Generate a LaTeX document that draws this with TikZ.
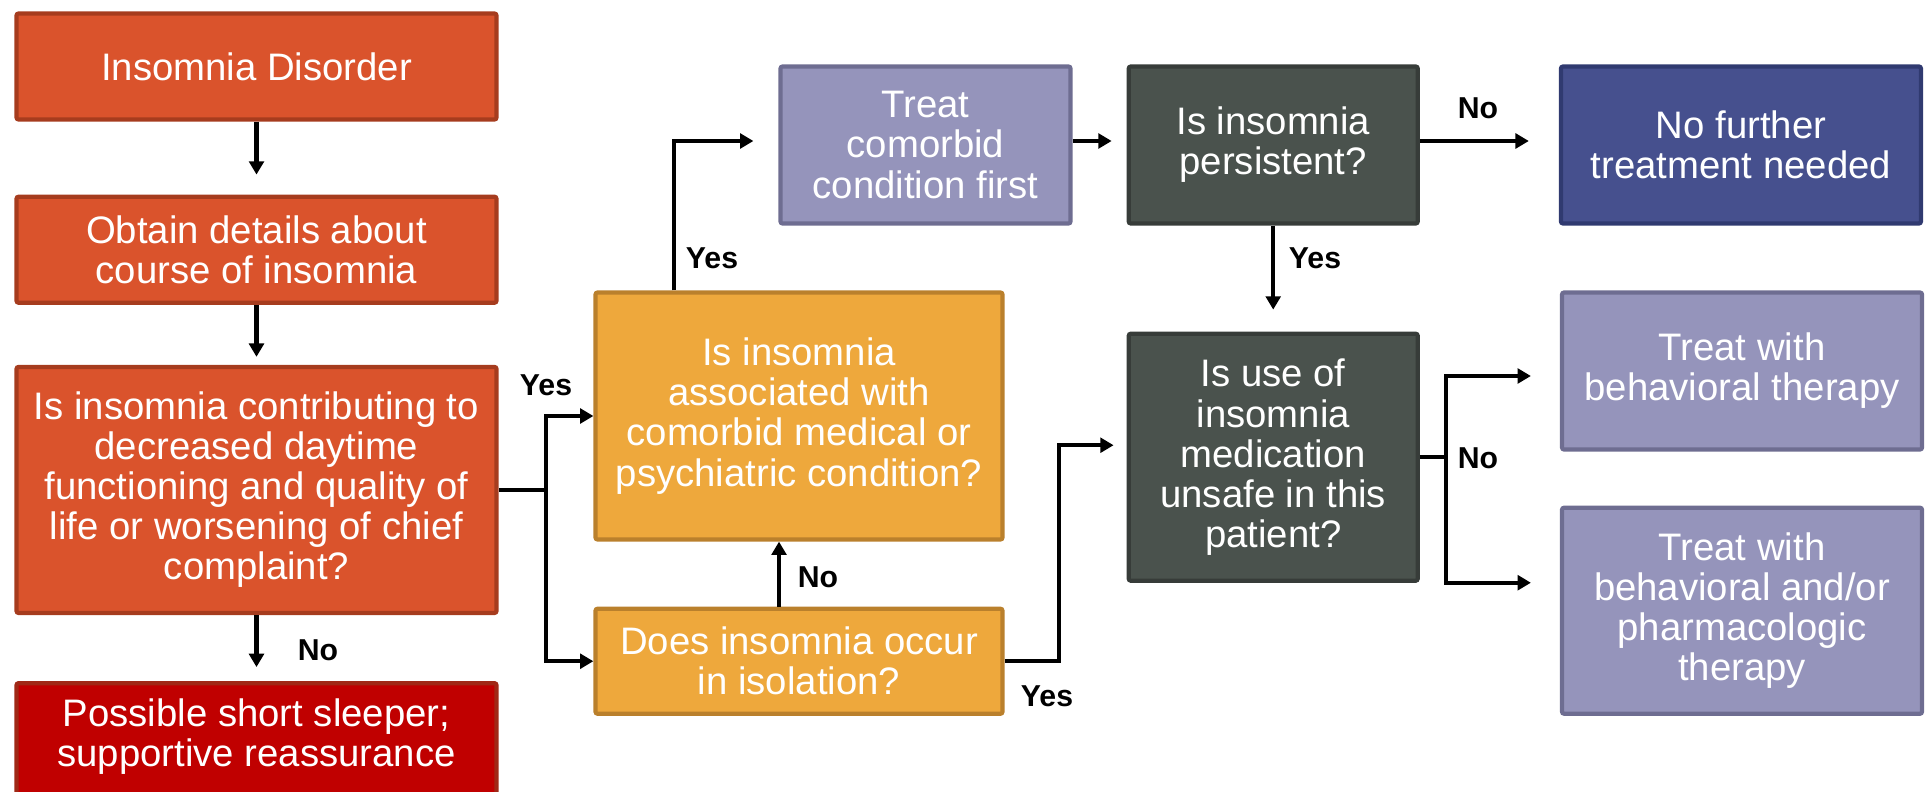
\documentclass[tikz,border=0pt]{standalone}
\usepackage{fontspec}
\setmainfont{Liberation Sans}
\usepackage{xcolor}
\usepackage{tikz}
\usetikzlibrary{arrows.meta, positioning, calc}
\definecolor{rust}{RGB}{218,83,44}
\definecolor{rustdk}{RGB}{166,60,30}
\definecolor{crimson}{RGB}{192,0,0}
\definecolor{crimsondk}{RGB}{160,40,22}
\definecolor{amber}{RGB}{238,168,60}
\definecolor{amberdk}{RGB}{186,128,44}
\definecolor{lilac}{RGB}{149,148,187}
\definecolor{lilacdk}{RGB}{110,109,145}
\definecolor{slate}{RGB}{74,82,77}
\definecolor{slatedk}{RGB}{55,60,57}
\definecolor{navy}{RGB}{70,80,142}
\definecolor{navydk}{RGB}{48,58,112}

\begin{document}
\begin{tikzpicture}[
  font=\fontsize{10.9}{11.4}\selectfont,
  base/.style={rectangle, rounded corners=0.6pt, line width=1.2pt, text=white,
               align=center, inner sep=2pt},
  rbox/.style={base, draw=rustdk, fill=rust, minimum width=4.8cm, minimum height=1.06cm},
  abox/.style={base, draw=amberdk, fill=amber, minimum width=4.07cm, minimum height=1.05cm},
  lbox/.style={base, draw=lilacdk, fill=lilac, minimum width=3.6cm, minimum height=1.57cm},
  gbox/.style={base, draw=slatedk, fill=slate, minimum width=2.89cm, minimum height=1.57cm},
  nvbox/.style={base, draw=navydk, fill=navy, minimum width=3.6cm, minimum height=1.57cm},
  line/.style={-, line width=1.2pt, black},
  arr/.style={-{Triangle[length=3.8pt, width=4.2pt]}, line width=1.2pt, black},
  lbl/.style={font=\bfseries\fontsize{8.6}{9}\selectfont, inner sep=0pt}
]
\useasboundingbox (0,0) rectangle (19.32,-7.91);

% left column
\node[rbox] (dis) at (2.565,-0.665) {Insomnia Disorder};
\node[rbox, below=0.73cm of dis] (det) {Obtain details about\\course of insomnia};
\node[rbox, minimum height=2.46cm, below=0.60cm of det] (contr)
  {Is insomnia contributing to\\decreased daytime\\functioning and quality of\\life or worsening of chief\\complaint?};
\node[rbox, fill=crimson, draw=crimsondk, minimum height=1.3cm, text depth=9pt,
      below=0.66cm of contr] (short)
  {Possible short sleeper;\\supportive reassurance};
\draw[arr, shorten >=0.2cm] (dis) -- (det);
\draw[arr, shorten >=0.08cm] (det) -- (contr);
\draw[arr, shorten >=0.14cm] (contr) -- (short);
\node[lbl] (noa) at (3.18,-6.50) {No};

% middle column
\node[abox, minimum height=2.47cm] (assoc) at (7.99,-4.16)
  {Is insomnia\\associated with\\comorbid medical or\\psychiatric condition?};
\node[abox, below=0.65cm of assoc] (isol) {Does insomnia occur\\in isolation?};
\coordinate[right=0.47cm of contr.east] (jl);
\draw[line] (contr.east) -- (jl);
\draw[arr] (jl) |- (assoc.west);
\draw[arr] (jl) |- (isol.west);
\node[lbl] (yesa) at (5.46,-3.85) {Yes};
\draw[arr] ([xshift=-0.2cm]isol.north) -- ([xshift=-0.2cm]assoc.south);
\node[lbl] (nob) at (8.18,-5.77) {No};

% top row
\node[lbox, minimum width=2.9cm] (comorb) at (9.255,-1.45) {Treat\\comorbid\\condition first};
\node[gbox, right=0.54cm of comorb] (persist) {Is insomnia\\persistent?};
\node[nvbox, right=1.39cm of persist] (nofur) {No further\\treatment needed};
\draw[arr, shorten >=0.25cm] ([xshift=-1.25cm]assoc.north) |- ([yshift=0.04cm]comorb.west);
\node[lbl] (yesb) at (7.12,-2.58) {Yes};
\draw[arr, shorten >=0.15cm] ([yshift=0.04cm]comorb.east) -- ([yshift=0.04cm]persist.west);
\draw[arr, shorten >=0.3cm] ([yshift=0.04cm]persist.east) -- ([yshift=0.04cm]nofur.west);
\node[lbl] (noc) at (14.78,-1.08) {No};

% right side
\node[gbox, minimum height=2.47cm, below=1.06cm of persist] (unsafe)
  {Is use of\\insomnia\\medication\\unsafe in this\\patient?};
\node[lbox] (behav) at (17.42,-3.71) {Treat with\\behavioral therapy};
\node[lbox, minimum height=2.06cm, below=0.54cm of behav] (pharm)
  {Treat with\\behavioral and/or\\pharmacologic\\therapy};
\draw[arr, shorten >=0.22cm] (persist) -- (unsafe);
\node[lbl] (yesc) at (13.15,-2.58) {Yes};
\draw[arr, shorten >=0.13cm] (isol.east) -- ++(0.54,0) |- ([yshift=0.12cm]unsafe.west);
\node[lbl] (yesd) at (10.47,-6.96) {Yes};
\coordinate[right=0.26cm of unsafe.east] (jr);
\draw[line] (unsafe.east) -- (jr);
\draw[arr, shorten >=0.29cm] (jr) |- ([yshift=-0.05cm]behav.west);
\draw[arr, shorten >=0.29cm] (jr) |- ([yshift=0.28cm]pharm.west);
\node[lbl] (nod) at (14.78,-4.58) {No};

\end{tikzpicture}
\end{document}
